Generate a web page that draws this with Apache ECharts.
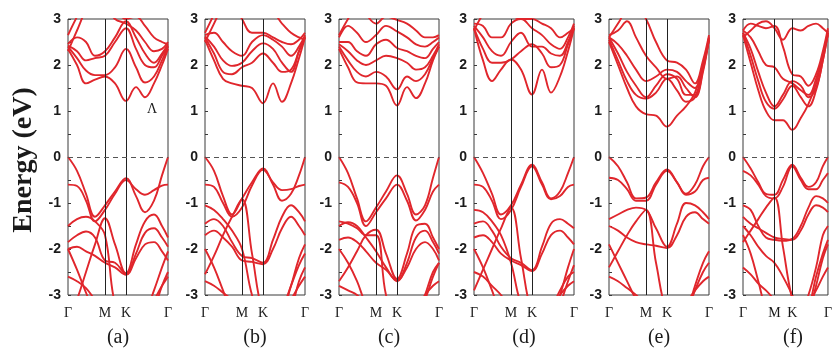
<!DOCTYPE html>
<html>
<head>
<meta charset="utf-8">
<script src="https://cdn.jsdelivr.net/npm/echarts@6/dist/echarts.min.js"></script>
<style>
html,body{margin:0;padding:0;background:#fff;}
#chart{width:835px;height:352px;}
</style>
</head>
<body>
<div id="chart"></div>
<script>
// k-path Γ-M-K-Γ, scaled to 0..100
var kPath = [0, 9, 18, 27, 37, 47, 58, 68, 77, 86, 94, 100];
var kTicks = [0, 37, 58, 100];
var kLabels = ['Γ', 'M', 'K', 'Γ'];
var panelNames = ['(a)', '(b)', '(c)', '(d)', '(e)', '(f)'];

// bands for each panel (eV)
var bandsA = [
    [2.35, 2.0, 1.6, 1.68, 1.75, 1.6, 1.22, 1.52, 1.3, 1.6, 2.0, 2.35],
    [2.4, 2.15, 1.88, 1.78, 1.78, 1.95, 2.35, 1.95, 1.62, 1.75, 2.1, 2.4],
    [2.42, 2.3, 2.1, 2.15, 2.2, 2.5, 2.8, 2.35, 2.0, 1.95, 2.2, 2.42],
    [2.45, 2.6, 2.5, 2.2, 2.3, 2.6, 2.95, 2.6, 2.25, 2.05, 2.25, 2.45],
    [2.65, 3.05, 3.4, 3.4, 3.3, 3.0, 2.9, 2.75, 2.5, 2.3, 2.35, 2.5],
    [2.3, 2.75, 3.2, 3.5, 3.6, 3.3, 3.0, 3.05, 2.85, 2.6, 2.5, 2.45],
    [0, -0.3, -0.8, -1.3, -1.05, -0.75, -0.46, -0.85, -1.2, -0.95, -0.4, 0],
    [-0.6, -0.63, -0.95, -1.4, -1.15, -0.8, -0.5, -0.7, -0.82, -0.72, -0.62, -0.6],
    [-3.6, -3.1, -2.5, -1.9, -1.33, -1.9, -2.53, -1.9, -1.4, -1.25, -1.5, -1.75],
    [-1.5, -1.35, -1.3, -1.4, -1.7, -3.2, -3.6, -3.6, -3.4, -2.9, -2.4, -2.05],
    [-1.85, -1.7, -1.62, -1.75, -2.25, -2.3, -2.53, -2.1, -1.65, -1.55, -1.75, -1.95],
    [-2.0, -1.95, -2.05, -2.15, -2.3, -2.4, -2.56, -2.2, -1.9, -1.85, -2.05, -2.25],
    [-2.0, -2.45, -2.95, -3.4, -3.6, -3.6, -3.6, -3.6, -3.6, -3.3, -2.8, -2.5],
    [-2.6, -2.7, -2.85, -3.1, -3.3, -3.5, -3.6, -3.5, -3.3, -3.1, -2.8, -2.6]
];
var bandsB = [
    [2.55, 2.1, 1.7, 1.6, 1.55, 1.5, 1.17, 1.6, 1.2, 1.6, 2.15, 2.6],
    [2.6, 2.25, 1.85, 1.8, 1.95, 2.05, 2.25, 2.05, 1.85, 1.9, 2.3, 2.6],
    [2.62, 2.4, 2.1, 1.98, 2.05, 2.3, 2.47, 2.35, 2.05, 1.85, 2.3, 2.62],
    [2.65, 2.7, 2.5, 2.3, 2.2, 2.5, 2.65, 2.55, 2.4, 2.2, 2.4, 2.65],
    [2.7, 3.1, 3.5, 3.4, 3.0, 2.7, 2.7, 2.6, 2.5, 2.45, 2.55, 2.7],
    [2.5, 2.9, 3.3, 3.6, 3.7, 3.4, 3.05, 3.1, 2.9, 2.7, 2.6, 2.55],
    [0, -0.3, -0.85, -1.25, -0.9, -0.55, -0.25, -0.6, -0.95, -0.8, -0.4, 0],
    [-0.6, -0.65, -1.0, -1.3, -1.1, -0.62, -0.28, -0.55, -0.72, -0.7, -0.63, -0.6],
    [-2.55, -2.15, -1.7, -1.3, -0.92, -2.1, -3.4, -3.6, -3.3, -2.8, -2.35, -2.1],
    [-1.45, -1.35, -1.5, -1.85, -2.15, -2.2, -2.3, -1.8, -1.3, -1.05, -1.2, -1.4],
    [-1.7, -1.6, -1.75, -1.95, -2.25, -2.28, -2.33, -2.0, -1.55, -1.3, -1.5, -1.7],
    [-1.05, -1.15, -1.35, -1.6, -2.0, -3.0, -3.6, -3.6, -3.4, -2.8, -2.2, -1.9],
    [-2.0, -2.4, -2.9, -3.4, -3.6, -3.6, -3.6, -3.6, -3.6, -3.3, -2.7, -2.4],
    [-2.7, -2.8, -2.95, -3.1, -3.3, -3.5, -3.6, -3.5, -3.4, -3.1, -2.8, -2.6]
];
var bandsC = [
    [2.35, 1.95, 1.62, 1.6, 1.6, 1.55, 1.12, 1.52, 1.28, 1.6, 2.1, 2.4],
    [2.4, 2.1, 1.85, 1.75, 1.85, 1.75, 1.47, 1.75, 1.65, 1.8, 2.15, 2.4],
    [2.45, 2.3, 2.1, 2.0, 2.1, 2.2, 2.15, 2.05, 1.9, 1.95, 2.2, 2.45],
    [2.5, 2.5, 2.3, 2.2, 2.45, 2.55, 2.37, 2.3, 2.2, 2.15, 2.35, 2.5],
    [2.6, 2.85, 2.7, 2.5, 2.65, 2.85, 2.73, 2.6, 2.45, 2.4, 2.5, 2.6],
    [2.65, 3.0, 3.3, 3.1, 2.9, 3.05, 2.98, 2.9, 2.75, 2.6, 2.6, 2.65],
    [0, -0.35, -0.9, -1.4, -1.1, -0.75, -0.4, -0.8, -1.25, -1.05, -0.45, 0],
    [-0.55, -0.65, -1.0, -1.5, -1.2, -0.9, -0.6, -0.95, -1.38, -1.15, -0.75, -0.6],
    [-2.7, -2.4, -2.05, -1.7, -1.58, -2.1, -2.65, -2.1, -1.5, -1.45, -1.75, -2.0],
    [-1.5, -1.42, -1.5, -1.75, -2.05, -2.4, -2.7, -2.3, -1.75, -1.6, -1.85, -2.1],
    [-1.8, -1.75, -1.85, -2.05, -2.3, -2.45, -2.68, -2.4, -2.0, -1.85, -2.0, -2.25],
    [-2.0, -2.3, -2.7, -3.2, -3.5, -3.6, -3.6, -3.6, -3.5, -3.1, -2.6, -2.3],
    [-1.4, -1.45, -1.55, -1.7, -1.7, -3.0, -3.6, -3.6, -3.5, -3.0, -2.5, -2.3],
    [-2.8, -2.9, -3.0, -3.2, -3.4, -3.5, -3.6, -3.5, -3.3, -3.0, -2.8, -2.7]
];
var bandsD = [
    [2.8, 2.1, 1.65, 1.9, 2.12, 1.9, 1.36, 1.9, 1.4, 1.75, 2.3, 2.8],
    [2.8, 2.35, 2.05, 2.05, 2.12, 2.3, 2.45, 2.25, 1.95, 2.0, 2.45, 2.8],
    [2.85, 2.6, 2.3, 2.2, 2.5, 2.7, 2.4, 2.4, 2.25, 2.2, 2.5, 2.85],
    [2.9, 2.85, 2.6, 2.6, 2.9, 3.0, 2.8, 2.65, 2.45, 2.35, 2.6, 2.9],
    [2.75, 3.1, 3.3, 3.3, 3.1, 3.0, 3.0, 2.9, 2.8, 2.6, 2.7, 2.8],
    [0, -0.35, -0.8, -1.25, -1.05, -0.6, -0.17, -0.55, -0.9, -0.75, -0.35, 0],
    [-0.6, -0.65, -0.95, -1.35, -1.15, -0.65, -0.2, -0.6, -0.92, -0.85, -0.65, -0.6],
    [-2.9, -2.45, -2.0, -1.55, -1.1, -2.2, -3.4, -3.6, -3.3, -2.9, -2.6, -2.5],
    [-1.45, -1.4, -1.6, -1.95, -2.2, -2.3, -2.46, -1.95, -1.45, -1.35, -1.45, -1.55],
    [-1.75, -1.7, -1.85, -2.1, -2.25, -2.35, -2.48, -2.1, -1.7, -1.6, -1.75, -1.9],
    [-1.15, -1.2, -1.4, -1.7, -2.3, -3.2, -3.6, -3.6, -3.5, -3.0, -2.4, -2.0],
    [-2.0, -2.4, -2.9, -3.4, -3.6, -3.6, -3.6, -3.6, -3.6, -3.2, -2.7, -2.35],
    [-2.5, -2.6, -2.8, -3.0, -3.3, -3.5, -3.6, -3.5, -3.3, -3.0, -2.8, -2.7]
];
var bandsE = [
    [2.5, 2.0, 1.5, 1.1, 0.93, 0.9, 0.66, 0.9, 1.1, 1.4, 2.0, 2.55],
    [2.55, 2.1, 1.65, 1.35, 1.27, 1.4, 1.7, 1.45, 1.2, 1.3, 1.95, 2.55],
    [2.6, 2.25, 1.85, 1.55, 1.3, 1.55, 1.8, 1.7, 1.35, 1.35, 1.9, 2.55],
    [2.6, 2.45, 2.2, 1.9, 1.65, 1.75, 1.9, 1.85, 1.65, 1.5, 2.0, 2.6],
    [2.65, 2.75, 2.95, 2.6, 2.2, 1.95, 1.7, 1.75, 1.5, 1.3, 1.85, 2.6],
    [2.6, 2.9, 3.2, 3.3, 3.0, 2.5, 2.1, 2.05, 1.9, 1.6, 2.1, 2.65],
    [0, -0.2, -0.55, -0.9, -0.88, -0.55, -0.27, -0.55, -0.8, -0.6, -0.2, 0],
    [-0.45, -0.5, -0.7, -0.95, -0.95, -0.6, -0.3, -0.55, -0.82, -0.75, -0.5, -0.45],
    [-1.35, -1.25, -1.15, -1.1, -1.15, -1.55, -1.95, -1.45, -1.0, -1.05, -1.2, -1.35],
    [-1.5, -1.6, -1.75, -1.85, -1.9, -1.93, -1.98, -1.7, -1.3, -1.2, -1.35, -1.45],
    [-2.4, -2.05, -1.7, -1.4, -1.15, -2.3, -3.4, -3.6, -3.4, -2.8, -2.3, -2.05],
    [-1.9, -2.3, -2.7, -3.1, -3.5, -3.6, -3.6, -3.6, -3.4, -2.9, -2.5, -2.3],
    [-2.6, -2.7, -2.85, -3.0, -3.2, -3.4, -3.6, -3.5, -3.2, -2.9, -2.7, -2.6]
];
var bandsF = [
    [2.65, 2.05, 1.45, 1.0, 0.8, 0.8, 0.59, 0.85, 1.15, 1.6, 2.2, 2.65],
    [2.7, 2.2, 1.65, 1.2, 1.05, 1.25, 1.55, 1.3, 1.1, 1.45, 2.1, 2.7],
    [2.7, 2.35, 1.85, 1.4, 1.1, 1.35, 1.65, 1.55, 1.3, 1.5, 2.1, 2.7],
    [2.75, 2.6, 2.3, 2.0, 1.95, 1.7, 1.6, 1.45, 1.35, 1.7, 2.2, 2.75],
    [2.75, 2.9, 2.85, 2.8, 2.85, 2.4, 1.8, 1.75, 1.55, 1.8, 2.3, 2.8],
    [2.6, 2.75, 2.9, 2.95, 2.8, 2.55, 2.8, 2.75, 2.85, 2.9, 2.8, 2.7],
    [0, -0.25, -0.55, -0.8, -0.82, -0.5, -0.17, -0.45, -0.65, -0.55, -0.2, 0],
    [-0.3, -0.4, -0.6, -0.85, -0.9, -0.65, -0.2, -0.5, -0.7, -0.7, -0.5, -0.35],
    [-1.05, -1.15, -1.5, -1.75, -1.8, -1.82, -1.78, -1.5, -1.1, -0.85, -0.9, -1.0],
    [-1.3, -1.45, -1.55, -1.65, -1.75, -1.78, -1.8, -1.6, -1.25, -1.05, -1.1, -1.2],
    [-1.85, -1.6, -1.35, -1.1, -0.88, -1.95, -3.1, -3.6, -3.3, -2.6, -2.1, -1.8],
    [-1.5, -1.7, -1.95, -2.15, -2.3, -2.6, -3.0, -3.4, -3.0, -2.4, -1.7, -1.5],
    [-1.7, -2.1, -2.7, -3.3, -3.6, -3.6, -3.6, -3.6, -3.4, -2.8, -2.2, -1.9],
    [-2.4, -2.55, -2.75, -2.9, -3.1, -3.3, -3.5, -3.5, -3.2, -2.9, -2.6, -2.4]
];

var allBands = [bandsA, bandsB, bandsC, bandsD, bandsE, bandsF];
var panelLeft = [68, 205, 339, 474, 609, 743];
var bandColor = '#e0262c';

var myChart = echarts.init(document.getElementById('chart'), null, {renderer: 'canvas'});

var grids = [], xAxes = [], yAxes = [], series = [], graphics = [];

for (var i = 0; i < allBands.length; i++) {
    grids.push({
        left: panelLeft[i], top: 19, width: 100, height: 276,
        show: true, borderColor: '#3a3a3a', borderWidth: 1, backgroundColor: 'transparent'
    });
    xAxes.push({
        gridIndex: i, type: 'value', min: 0, max: 100,
        axisLine: {show: false}, axisTick: {show: false}, splitLine: {show: false},
        axisLabel: {
            customValues: kTicks,
            formatter: function (v) { return kLabels[kTicks.indexOf(v)]; },
            fontFamily: 'Liberation Serif', fontSize: 14, color: '#1a1a1a', margin: 11
        }
    });
    yAxes.push({
        gridIndex: i, type: 'value', min: -3, max: 3, interval: 1,
        axisLine: {show: false},
        axisTick: {show: true, inside: true, length: 3, lineStyle: {color: '#3a3a3a'}},
        minorTick: {show: true, splitNumber: 2, length: 3, lineStyle: {color: '#3a3a3a'}},
        splitLine: {show: false},
        axisLabel: {fontFamily: 'Liberation Sans', fontWeight: 'bold', fontSize: 14, color: '#1a1a1a', margin: 7}
    });

    var bands = allBands[i];
    for (var b = 0; b < bands.length; b++) {
        var pts = [];
        for (var j = 0; j < kPath.length; j++) {
            pts.push([kPath[j], bands[b][j]]);
        }
        var s = {
            type: 'line', xAxisIndex: i, yAxisIndex: i,
            data: pts, smooth: 0.4, symbol: 'none', silent: true, clip: true,
            lineStyle: {color: bandColor, width: 1.9}
        };
        if (b === 0) {
            s.markLine = {
                symbol: 'none', silent: true, label: {show: false},
                data: [
                    {xAxis: kTicks[1], lineStyle: {color: '#222', type: 'solid', width: 1}},
                    {xAxis: kTicks[2], lineStyle: {color: '#222', type: 'solid', width: 1}},
                    {yAxis: 0, lineStyle: {color: '#555', type: [5, 4], width: 1.2}}
                ]
            };
        }
        series.push(s);
    }

    graphics.push({
        type: 'text', x: panelLeft[i] + 50, y: 338,
        style: {text: panelNames[i], align: 'center', verticalAlign: 'middle',
            font: '20px "Liberation Serif"', fill: '#1a1a1a'}
    });
}

graphics.push({
    type: 'text', x: 24, y: 160, rotation: Math.PI / 2,
    style: {text: 'Energy (eV)', align: 'center', verticalAlign: 'middle',
        font: 'bold 28px "Liberation Serif"', fill: '#1a1a1a'}
});
graphics.push({
    type: 'text', x: 152, y: 109,
    style: {text: 'Λ', align: 'center', verticalAlign: 'middle',
        font: '14px "Liberation Serif"', fill: '#1a1a1a'}
});

myChart.setOption({
    animation: false,
    grid: grids,
    xAxis: xAxes,
    yAxis: yAxes,
    series: series,
    graphic: graphics
});
</script>
</body>
</html>
